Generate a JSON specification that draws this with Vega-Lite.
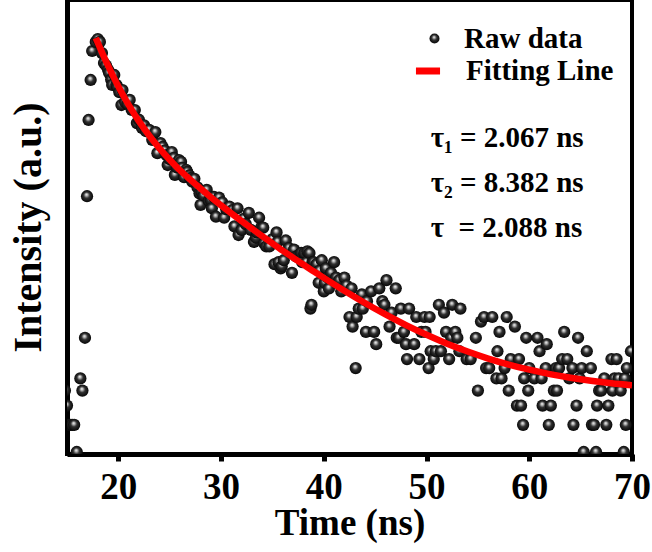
{
  "$schema": "https://vega.github.io/schema/vega-lite/v6.json",
  "width": 565,
  "height": 454,
  "autosize": {"type": "none"},
  "padding": {"left": 67, "top": 0, "right": 20, "bottom": 98},
  "background": "white",
  "config": {"view": {"stroke": "black", "strokeWidth": 4}, "font": "Liberation Serif"},
  "datasets": {
    "raw": [
      {"t":14.8,"n":5},{"t":15.0,"n":4},{"t":15.1,"n":3},{"t":15.3,"n":3},{"t":15.5,"n":3},{"t":15.7,"n":3},{"t":15.95,"n":2},
      {"t":16.3,"n":6},{"t":16.5,"n":5},{"t":16.75,"n":11},{"t":16.95,"n":91},{"t":17.1,"n":284},{"t":17.3,"n":516},{"t":17.45,"n":795},
      {"t":17.8,"n":910},{"t":18.0,"n":950},{"t":18.2,"n":910},{"t":18.4,"n":771},{"t":18.6,"n":665},{"t":18.8,"n":640},{"t":19.0,"n":600},
      {"t":19.1,"n":573},{"t":19.3,"n":520},{"t":19.4,"n":479},{"t":19.6,"n":556},{"t":19.8,"n":480},{"t":19.9,"n":465},{"t":20.1,"n":430},
      {"t":20.3,"n":355},{"t":20.4,"n":444},{"t":20.65,"n":371},{"t":20.9,"n":360},{"t":21.1,"n":383},{"t":21.3,"n":330},{"t":21.6,"n":329},
      {"t":21.8,"n":271},{"t":22.0,"n":285},{"t":22.3,"n":252},{"t":22.5,"n":262},{"t":22.7,"n":240},{"t":23.0,"n":245},{"t":23.3,"n":211},
      {"t":23.6,"n":237},{"t":23.8,"n":173},{"t":24.1,"n":201},{"t":24.3,"n":190},{"t":24.5,"n":180},{"t":24.7,"n":168},{"t":24.8,"n":145},
      {"t":25.0,"n":158},{"t":25.2,"n":176},{"t":25.4,"n":161},{"t":25.5,"n":125},{"t":25.7,"n":140},{"t":25.9,"n":156},{"t":26.1,"n":152},
      {"t":26.2,"n":139},{"t":26.4,"n":121},{"t":26.6,"n":135},{"t":26.7,"n":131},{"t":26.9,"n":124},{"t":27.0,"n":119},{"t":27.2,"n":113},
      {"t":27.4,"n":118},{"t":27.7,"n":104},{"t":27.9,"n":95},{"t":28.0,"n":80},{"t":28.1,"n":97},{"t":28.3,"n":92},{"t":28.6,"n":100},
      {"t":28.8,"n":85},{"t":29.0,"n":86},{"t":29.1,"n":76},{"t":29.3,"n":90},{"t":29.5,"n":67},{"t":29.8,"n":89},{"t":30.1,"n":83},
      {"t":30.3,"n":66},{"t":30.5,"n":75},{"t":30.8,"n":78},{"t":31.1,"n":74},{"t":31.3,"n":58},{"t":31.6,"n":76},{"t":31.7,"n":51},
      {"t":32.0,"n":55},{"t":32.2,"n":65},{"t":32.4,"n":60},{"t":32.7,"n":71},{"t":32.9,"n":55},{"t":33.2,"n":46},{"t":33.4,"n":49},
      {"t":33.5,"n":53},{"t":33.7,"n":66},{"t":33.9,"n":57},{"t":34.1,"n":57},{"t":34.2,"n":45},{"t":34.4,"n":43},{"t":34.7,"n":43},
      {"t":35.0,"n":48},{"t":35.2,"n":33},{"t":35.4,"n":53},{"t":35.5,"n":46},{"t":35.6,"n":34},{"t":35.8,"n":31},{"t":35.9,"n":32},
      {"t":36.1,"n":35},{"t":36.3,"n":47},{"t":36.6,"n":42},{"t":36.9,"n":29},{"t":37.1,"n":41},{"t":37.3,"n":37},{"t":37.6,"n":38},
      {"t":37.8,"n":39},{"t":37.9,"n":34},{"t":38.1,"n":39},{"t":38.3,"n":34},{"t":38.4,"n":40},{"t":38.6,"n":39},{"t":38.7,"n":17},
      {"t":38.8,"n":18},{"t":38.9,"n":34},{"t":39.0,"n":34},{"t":39.3,"n":33},{"t":39.5,"n":25},{"t":39.6,"n":30},{"t":39.8,"n":35},
      {"t":40.0,"n":22},{"t":40.1,"n":25},{"t":40.2,"n":31},{"t":40.4,"n":27},{"t":40.5,"n":23},{"t":40.7,"n":29},{"t":41.0,"n":34},
      {"t":41.2,"n":27},{"t":41.5,"n":26},{"t":41.7,"n":22},{"t":42.0,"n":27},{"t":42.2,"n":24},{"t":42.5,"n":15},{"t":42.7,"n":23},
      {"t":42.8,"n":13},{"t":43.1,"n":7},{"t":43.2,"n":15},{"t":43.4,"n":17},{"t":43.7,"n":21},{"t":43.8,"n":17},{"t":44.1,"n":12},
      {"t":44.2,"n":19},{"t":44.6,"n":22},{"t":44.9,"n":12},{"t":45.1,"n":10},{"t":45.4,"n":23},{"t":45.7,"n":19},{"t":45.9,"n":18},
      {"t":46.1,"n":26},{"t":46.4,"n":13},{"t":46.6,"n":16},{"t":47.0,"n":23},{"t":47.1,"n":11},{"t":47.3,"n":11},{"t":47.5,"n":17},
      {"t":47.8,"n":12},{"t":48.0,"n":10},{"t":48.1,"n":8},{"t":48.3,"n":17},{"t":48.8,"n":10},{"t":49.0,"n":15},{"t":49.3,"n":8},
      {"t":49.5,"n":12},{"t":49.8,"n":15},{"t":49.9,"n":12},{"t":50.2,"n":7},{"t":50.3,"n":15},{"t":50.4,"n":9},{"t":50.7,"n":8},
      {"t":50.9,"n":9},{"t":51.2,"n":18},{"t":51.4,"n":9},{"t":51.7,"n":16},{"t":51.9,"n":12},{"t":52.2,"n":8},{"t":52.4,"n":11},
      {"t":52.5,"n":18},{"t":52.8,"n":12},{"t":53.0,"n":11},{"t":53.2,"n":9},{"t":53.3,"n":17},{"t":53.9,"n":8},{"t":54.3,"n":8},
      {"t":54.8,"n":11},{"t":55.0,"n":5},{"t":55.3,"n":14},{"t":55.6,"n":15},{"t":55.8,"n":7},{"t":56.1,"n":7},{"t":56.4,"n":15},
      {"t":56.8,"n":6},{"t":56.9,"n":9},{"t":57.1,"n":12},{"t":57.3,"n":6},{"t":57.6,"n":7},{"t":57.8,"n":15},{"t":58.0,"n":5},
      {"t":58.2,"n":8},{"t":58.6,"n":13},{"t":58.8,"n":4},{"t":59.0,"n":8},{"t":59.2,"n":4},{"t":59.4,"n":3},{"t":59.5,"n":6},
      {"t":59.7,"n":11},{"t":59.9,"n":5},{"t":60.0,"n":7},{"t":60.5,"n":6},{"t":60.8,"n":11},{"t":61.0,"n":9},{"t":61.2,"n":6},
      {"t":61.3,"n":4},{"t":61.6,"n":7},{"t":61.7,"n":10},{"t":61.9,"n":3},{"t":62.1,"n":4},{"t":62.4,"n":5},{"t":62.6,"n":7},
      {"t":62.7,"n":5},{"t":62.9,"n":7},{"t":63.2,"n":8},{"t":63.4,"n":12},{"t":63.7,"n":8},{"t":63.9,"n":6},{"t":64.2,"n":7},
      {"t":64.3,"n":3},{"t":64.6,"n":4},{"t":64.75,"n":11},{"t":64.9,"n":6},{"t":65.1,"n":7},{"t":65.3,"n":2},{"t":65.6,"n":9},
      {"t":66.0,"n":7},{"t":66.1,"n":3},{"t":66.3,"n":3},{"t":66.5,"n":2},{"t":66.6,"n":4},{"t":66.8,"n":5},{"t":67.0,"n":5},
      {"t":67.3,"n":6},{"t":67.5,"n":3},{"t":67.7,"n":4},{"t":68.0,"n":8},{"t":68.1,"n":5},{"t":68.3,"n":6},{"t":68.5,"n":8},
      {"t":68.7,"n":6},{"t":68.9,"n":5},{"t":69.2,"n":2},{"t":69.3,"n":6},{"t":69.4,"n":3},{"t":69.5,"n":7},{"t":69.9,"n":9}
    ],
    "fit": [
      {"t":17.8,"n":965},{"t":18.5,"n":754},{"t":19,"n":638},{"t":19.5,"n":544},{"t":20,"n":468},{"t":21,"n":356},{"t":22,"n":279},
      {"t":23,"n":225},{"t":24,"n":186},{"t":25,"n":157},{"t":26,"n":134},{"t":27,"n":116.5},{"t":28,"n":102},{"t":29,"n":89.7},
      {"t":30,"n":79.4},{"t":31,"n":70.5},{"t":32,"n":62.8},{"t":33,"n":56.1},{"t":34,"n":50.2},{"t":35,"n":45.0},{"t":36,"n":40.4},
      {"t":37,"n":36.4},{"t":38,"n":32.8},{"t":39,"n":29.7},{"t":40,"n":26.9},{"t":42,"n":22.2},{"t":44,"n":18.5},{"t":46,"n":15.6},
      {"t":48,"n":13.3},{"t":50,"n":11.5},{"t":52,"n":10.07},{"t":54,"n":8.96},{"t":56,"n":8.07},{"t":58,"n":7.38},{"t":60,"n":6.83},
      {"t":62,"n":6.40},{"t":64,"n":6.06},{"t":66,"n":5.79},{"t":68,"n":5.58},{"t":70,"n":5.42}
    ]
  },
  "layer": [
    {
      "data": {"name": "raw"},
      "mark": {
        "type": "point", "filled": true, "clip": true, "size": 150, "opacity": 1,
        "color": {"gradient": "radial", "x1": 0.45, "y1": 0.35, "r1": 0, "x2": 0.5, "y2": 0.5, "r2": 0.55,
          "stops": [{"offset": 0, "color": "#ffffff"}, {"offset": 0.2, "color": "#b0b0b0"}, {"offset": 0.45, "color": "#303030"}, {"offset": 1, "color": "#000000"}]}
      },
      "encoding": {
        "x": {"field": "t", "type": "quantitative",
          "scale": {"domain": [15, 70], "nice": false, "zero": false},
          "axis": {"values": [20, 30, 40, 50, 60, 70], "title": "Time (ns)", "grid": false,
            "labelFont": "Liberation Serif", "labelFontSize": 37, "labelFontWeight": "bold", "labelColor": "black", "labelFlush": false,
            "titleFont": "Liberation Serif", "titleFontSize": 37, "titleFontWeight": "bold", "titleColor": "black",
            "domainColor": "black", "domainWidth": 5, "tickColor": "black", "tickWidth": 5, "tickSize": 7,
            "labelPadding": 8, "titlePadding": 0}},
        "y": {"field": "n", "type": "quantitative",
          "scale": {"type": "log", "domain": [1.941, 1702], "nice": false},
          "axis": {"title": "Intensity (a.u.)", "labels": false, "ticks": false, "grid": false,
            "domainColor": "black", "domainWidth": 5,
            "titleFont": "Liberation Serif", "titleFontSize": 40, "titleFontWeight": "bold", "titleColor": "black", "titlePadding": 19}},
        "shape": {"datum": "Raw data", "type": "nominal", "scale": {"range": ["circle"]},
          "legend": {"orient": "none", "legendX": 353, "legendY": 24, "title": null, "padding": 0,
            "labelFont": "Liberation Serif", "labelFontSize": 29, "labelFontWeight": "bold", "labelColor": "black",
            "symbolFillColor": "black", "symbolStrokeColor": "black", "symbolSize": 100, "labelOffset": 15}}
      }
    },
    {
      "data": {"name": "fit"},
      "mark": {"type": "line", "strokeWidth": 6.5, "interpolate": "monotone", "clip": true},
      "encoding": {
        "x": {"field": "t", "type": "quantitative"},
        "y": {"field": "n", "type": "quantitative"},
        "color": {"datum": "Fitting Line", "type": "nominal", "scale": {"range": ["#ff0000"]},
          "legend": {"orient": "none", "legendX": 345, "legendY": 55, "title": null, "padding": 0,
            "symbolType": "stroke", "symbolStrokeWidth": 7, "symbolSize": 580, "symbolStrokeColor": "#ff0000",
            "labelFont": "Liberation Serif", "labelFontSize": 29, "labelFontWeight": "bold", "labelColor": "black", "labelOffset": 22}}
      }
    },
    {
      "data": {"values": [{}]},
      "mark": {"type": "text", "font": "Liberation Serif", "fontWeight": "bold", "fontSize": 29, "align": "left", "baseline": "alphabetic", "lineHeight": 45, "color": "black"},
      "encoding": {
        "x": {"datum": 50.4},
        "y": {"datum": 190},
        "text": {"value": ["τ₁ = 2.067 ns", "τ₂ = 8.382 ns", "τ\u00a0\u00a0= 2.088 ns"]}
      }
    }
  ]
}
